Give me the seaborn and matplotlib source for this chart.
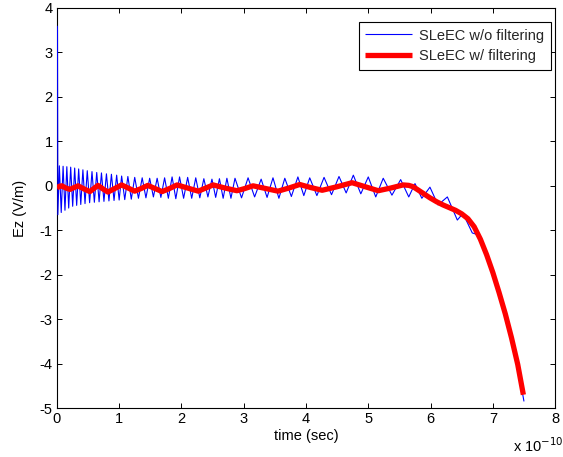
import matplotlib
matplotlib.use("Agg")
import matplotlib.pyplot as plt
import seaborn as sns
import pandas as pd

# time in units of 1e-10 s
blue_start_t = [0.006, 0.010]
blue_start_v = [3.60, 3.50]

peak_t = [0.040, 0.100, 0.160, 0.222, 0.286, 0.350, 0.418, 0.488, 0.564, 0.640,
          0.716, 0.796, 0.876, 0.960, 1.040, 1.140, 1.250, 1.370, 1.490, 1.610,
          1.730, 1.850, 1.970, 2.100, 2.230, 2.360, 2.490, 2.610, 2.730, 2.860,
          3.070, 3.280, 3.470, 3.660, 3.870, 4.060, 4.290, 4.530, 4.760, 5.000,
          5.240, 5.520, 5.750, 5.990, 6.270, 6.520]
peak_v = [0.45, 0.44, 0.43, 0.42, 0.40, 0.38, 0.36, 0.34, 0.32, 0.30,
          0.29, 0.27, 0.26, 0.24, 0.22, 0.21, 0.19, 0.18, 0.17, 0.17,
          0.18, 0.20, 0.20, 0.19, 0.18, 0.16, 0.15, 0.16, 0.17, 0.17,
          0.18, 0.15, 0.18, 0.17, 0.20, 0.18, 0.19, 0.21, 0.24, 0.20,
          0.17, 0.14, 0.05, -0.03, -0.25, -0.62]

trough_t = [0.016, 0.070, 0.130, 0.190, 0.254, 0.318, 0.384, 0.452, 0.526, 0.602,
            0.678, 0.756, 0.836, 0.918, 1.000, 1.090, 1.195, 1.310, 1.430, 1.550,
            1.670, 1.790, 1.910, 2.035, 2.165, 2.295, 2.425, 2.550, 2.670, 2.795,
            2.965, 3.175, 3.375, 3.565, 3.765, 3.965, 4.175, 4.410, 4.645, 4.880,
            5.120, 5.380, 5.650, 5.860, 6.120, 6.430, 6.670]
trough_v = [-0.65, -0.60, -0.55, -0.50, -0.46, -0.44, -0.42, -0.40, -0.38, -0.37,
            -0.36, -0.35, -0.34, -0.33, -0.32, -0.31, -0.30, -0.28, -0.27, -0.25,
            -0.26, -0.28, -0.29, -0.28, -0.28, -0.27, -0.25, -0.26, -0.28, -0.28,
            -0.27, -0.25, -0.26, -0.28, -0.24, -0.22, -0.22, -0.20, -0.16, -0.18,
            -0.25, -0.21, -0.25, -0.28, -0.43, -0.77, -1.06]

blue_tail_t = [6.76, 6.83, 6.91, 6.99, 7.07, 7.15, 7.23, 7.30, 7.36, 7.43, 7.50]
blue_tail_v = [-1.10, -1.30, -1.55, -1.90, -2.25, -2.65, -3.05, -3.42, -3.80, -4.30, -4.85]

red_t = [0.00, 0.04, 0.08, 0.145, 0.21, 0.275, 0.34, 0.435, 0.53, 0.595, 0.66, 0.74,
         0.82, 0.93, 1.04, 1.145, 1.25, 1.355, 1.46, 1.575, 1.69, 1.81, 1.93, 2.10,
         2.27, 2.39, 2.51, 2.70, 2.89, 3.02, 3.15, 3.35, 3.55, 3.725, 3.90, 4.08,
         4.26, 4.50, 4.74, 4.95, 5.16, 5.36, 5.56, 5.65, 5.72, 5.85, 5.99, 6.10,
         6.20, 6.30, 6.40, 6.50, 6.60, 6.70, 6.80, 6.90, 7.00, 7.10, 7.20, 7.30,
         7.40, 7.49]
red_v = [-0.05, -0.01, 0.00, -0.05, -0.08, -0.04, 0.00, -0.07, -0.13, -0.06, 0.01, -0.07,
         -0.14, -0.06, 0.02, -0.05, -0.12, -0.06, 0.01, -0.06, -0.13, -0.06, 0.02, -0.05,
         -0.12, -0.05, 0.02, -0.05, -0.11, -0.06, 0.00, -0.06, -0.12, -0.05, 0.03, -0.04,
         -0.10, -0.02, 0.07, -0.02, -0.11, -0.05, 0.02, 0.01, -0.02, -0.14, -0.27, -0.36,
         -0.43, -0.49, -0.55, -0.63, -0.74, -0.92, -1.20, -1.55, -1.95, -2.40, -2.88, -3.42,
         -4.02, -4.70]

x_ticks = [0, 1, 2, 3, 4, 5, 6, 7, 8]
y_ticks = [-5, -4, -3, -2, -1, 0, 1, 2, 3, 4]

blue = pd.DataFrame({
    "t": blue_start_t + peak_t + trough_t + blue_tail_t,
    "v": blue_start_v + peak_v + trough_v + blue_tail_v,
}).sort_values("t").reset_index(drop=True)
red = pd.DataFrame({"t": red_t, "v": red_v})

sns.set_theme(style="white")
plt.rcParams["font.family"] = ["Liberation Sans", "DejaVu Sans"]
plt.rcParams["xtick.direction"] = "in"
plt.rcParams["ytick.direction"] = "in"

fig = plt.figure(figsize=(5.63, 4.57), dpi=100)
ax = fig.add_axes([0.101, 0.107, 0.885, 0.8755])

sns.lineplot(data=blue, x="t", y="v", ax=ax, color="#0000ff", linewidth=0.8,
             estimator=None, sort=False, label="SLeEC w/o filtering", zorder=5)
sns.lineplot(data=red, x="t", y="v", ax=ax, color="#ff0000", linewidth=3.8,
             estimator=None, sort=False, label="SLeEC w/ filtering", zorder=6)
for ln in ax.get_lines():
    ln.set_solid_joinstyle("round")
    ln.set_solid_capstyle("butt")

ax.set_xlim(0, 8)
ax.set_ylim(-5, 4)
ax.set_xticks(x_ticks)
ax.set_yticks(y_ticks)
ax.set_xticklabels([str(v) for v in x_ticks], fontsize=10.5)
ax.set_yticklabels([str(v) for v in y_ticks], fontsize=10.5)
ax.tick_params(axis="both", which="both", direction="in", length=3.5, width=0.7,
               top=True, right=True, bottom=True, left=True, colors="black", pad=3)
for s in ax.spines.values():
    s.set_color("black")
    s.set_linewidth(0.8)
    s.set_zorder(2)
ax.grid(False)

ax.set_xlabel("time (sec)", fontsize=10.5, color="black", labelpad=2)
ax.set_ylabel("Ez (V/m)", fontsize=10.5, color="black", labelpad=9)

leg = ax.legend(loc="upper right", bbox_to_anchor=(0.992, 0.965), borderaxespad=0,
                fontsize=10.5, frameon=True, fancybox=False, framealpha=1,
                edgecolor="black", handlelength=3.2, handletextpad=0.5,
                labelspacing=0.45, borderpad=0.45)
leg.get_frame().set_linewidth(0.8)
leg.set_zorder(10)

fig.text(0.912, 0.012, r"x 10$^{-10}$", fontsize=10.5, color="black")

fig.savefig("out.png", dpi=100, facecolor="white")
